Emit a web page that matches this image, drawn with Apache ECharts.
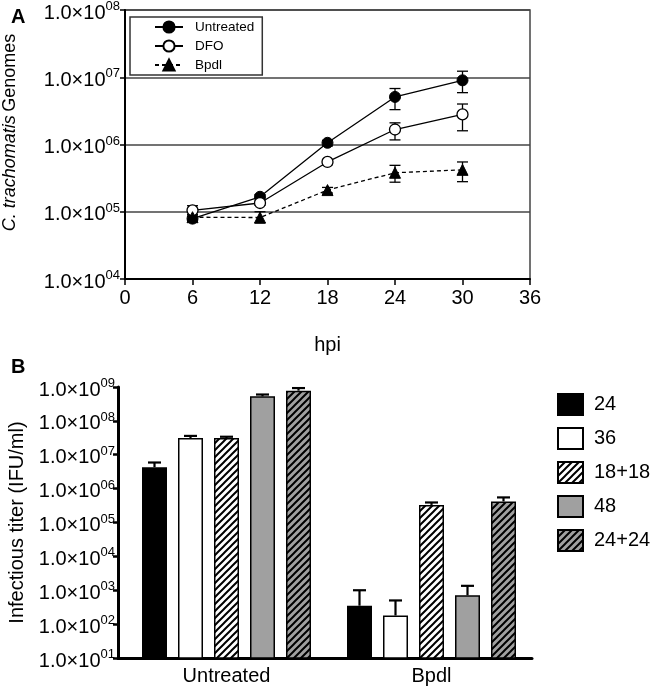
<!DOCTYPE html>
<html>
<head>
<meta charset="utf-8" />
<title>Chart</title>
<script src="https://cdn.jsdelivr.net/npm/echarts@6/dist/echarts.min.js"></script>
<style>
  html, body { margin: 0; padding: 0; background: #fff; }
  #main { width: 654px; height: 687px; }
</style>
</head>
<body>
<div id="main"></div>
<script>
// ---- panel A data (genomes vs hpi) ----
var hpi = [6, 12, 18, 24, 30];
var untreatedA = [7.9e4, 1.67e5, 1.06e6, 5.1e6, 9.0e6];
var untreatedHi = [8.5e4, 1.8e5, 1.15e6, 6.8e6, 1.23e7];
var untreatedLo = [7.3e4, 1.55e5, 0.95e6, 3.3e6, 5.9e6];
var dfoA = [1.05e5, 1.35e5, 5.5e5, 1.67e6, 2.8e6];
var dfoHi = [1.23e5, 1.45e5, 6.0e5, 2.1e6, 4.0e6];
var dfoLo = [0.9e5, 1.25e5, 5.0e5, 1.17e6, 1.6e6];
var bpdlA = [8.3e4, 8.2e4, 2.1e5, 3.8e5, 4.2e5];
var bpdlHi = [9.0e4, 1.0e5, 2.3e5, 4.9e5, 5.5e5];
var bpdlLo = [7.6e4, 6.8e4, 1.9e5, 2.75e5, 2.8e5];

// ---- panel B data (infectious titer) ----
var groupsB = ['Untreated', 'Bpdl'];
var seriesNamesB = ['24', '36', '18+18', '48', '24+24'];
var titer24 = [4.3e6, 3.5e2];
var titer36 = [3.1e7, 1.8e2];
var titer1818 = [3.1e7, 3.3e5];
var titer48 = [5.3e8, 7.1e2];
var titer2424 = [7.8e8, 4.2e5];
var titer24Hi = [5.9e6, 1.0e3];
var titer36Hi = [3.6e7, 5.0e2];
var titer1818Hi = [3.4e7, 3.9e5];
var titer48Hi = [6.0e8, 1.35e3];
var titer2424Hi = [9.3e8, 5.5e5];

var FONT = '"Liberation Sans", Arial, sans-serif';
var BAR_W = 25, BAR_GAP = 0.44;

// diagonal hatch pattern
function hatch(bg) {
  var s = 7, c = document.createElement('canvas');
  c.width = s; c.height = s;
  var g = c.getContext('2d');
  g.fillStyle = bg; g.fillRect(0, 0, s, s);
  g.strokeStyle = '#000'; g.lineWidth = 2;
  g.beginPath();
  g.moveTo(0, s); g.lineTo(s, 0);
  g.moveTo(-1, 1); g.lineTo(1, -1);
  g.moveTo(s - 1, s + 1); g.lineTo(s + 1, s - 1);
  g.stroke();
  return { image: c, repeat: 'repeat' };
}

function expLabel(v) {
  var e = Math.round(Math.log10(v));
  var s = (e < 10 ? '0' : '') + e;
  return '{a|1.0×10}{b|' + s + '}';
}
var labelRich = {
  a: { fontSize: 20, fontFamily: FONT, color: '#000', lineHeight: 24, padding: [6, 0, 0, 0] },
  b: { fontSize: 13, fontFamily: FONT, color: '#000', verticalAlign: 'top', lineHeight: 13, padding: [2, 0, 0, 0] }
};

// error bars for panel A
var errDataA = [];
[[untreatedLo, untreatedHi], [dfoLo, dfoHi], [bpdlLo, bpdlHi]].forEach(function (p) {
  hpi.forEach(function (x, i) { errDataA.push([x, p[0][i], p[1][i]]); });
});
function renderErrA(params, api) {
  var x = api.value(0);
  var lo = api.coord([x, api.value(1)]);
  var hi = api.coord([x, api.value(2)]);
  var w = 5.5;
  var st = { stroke: '#000', lineWidth: 1.3 };
  return {
    type: 'group', children: [
      { type: 'line', shape: { x1: lo[0], y1: lo[1], x2: hi[0], y2: hi[1] }, style: st },
      { type: 'line', shape: { x1: hi[0] - w, y1: hi[1], x2: hi[0] + w, y2: hi[1] }, style: st },
      { type: 'line', shape: { x1: lo[0] - w, y1: lo[1], x2: lo[0] + w, y2: lo[1] }, style: st }
    ]
  };
}

// error bars for panel B (upper only)
var valsB = [titer24, titer36, titer1818, titer48, titer2424];
var hisB = [titer24Hi, titer36Hi, titer1818Hi, titer48Hi, titer2424Hi];
var errDataB = [];
valsB.forEach(function (vals, k) {
  vals.forEach(function (v, c) { errDataB.push([c, k, v, hisB[k][c]]); });
});
function renderErrB(params, api) {
  var c = api.value(0), k = api.value(1);
  var base = api.coord([c, api.value(2)]);
  var top = api.coord([c, api.value(3)]);
  var dx = (k - (seriesNamesB.length - 1) / 2) * BAR_W * (1 + BAR_GAP);
  var x = base[0] + dx, w = 6.5;
  var st = { stroke: '#000', lineWidth: 2.2 };
  return {
    type: 'group', children: [
      { type: 'line', shape: { x1: x, y1: base[1], x2: x, y2: top[1] }, style: st },
      { type: 'line', shape: { x1: x - w, y1: top[1], x2: x + w, y2: top[1] }, style: st }
    ]
  };
}

var fillsB = ['#000', '#fff', hatch('#fff'), '#a0a0a0', hatch('#a0a0a0')];

var barSeries = seriesNamesB.map(function (n, k) {
  return {
    name: n, type: 'bar', xAxisIndex: 2, yAxisIndex: 2,
    data: valsB[k], barWidth: BAR_W, barGap: (BAR_GAP * 100) + '%',
    itemStyle: { color: fillsB[k], borderColor: '#000', borderWidth: 1.5 },
    z: 2
  };
});

var chart = echarts.init(document.getElementById('main'));
chart.setOption({
  animation: false,
  textStyle: { fontFamily: FONT, color: '#000' },
  title: [
    { text: 'A', left: 6, top: 2, textStyle: { fontSize: 20, fontWeight: 'bold', fontFamily: FONT, color: '#000' } },
    { text: 'B', left: 6, top: 352, textStyle: { fontSize: 20, fontWeight: 'bold', fontFamily: FONT, color: '#000' } }
  ],
  legend: [
    {
      data: ['Untreated', 'DFO', 'Bpdl'],
      orient: 'vertical', left: 130, top: 17,
      itemWidth: 28, itemHeight: 14, itemGap: 5,
      padding: [3, 8, 3, 24],
      borderColor: '#333', borderWidth: 1.5,
      textStyle: { fontSize: 13.5, fontFamily: FONT, color: '#000', padding: [0, 0, 0, 7] }
    },
    {
      data: seriesNamesB,
      orient: 'vertical', left: 557, top: 393,
      icon: 'rect', itemWidth: 25, itemHeight: 21, itemGap: 11,
      padding: 0,
      textStyle: { fontSize: 20, fontFamily: FONT, color: '#000', padding: [0, 0, 0, 6] }
    }
  ],
  grid: [
    // panel A
    { left: 125, top: 10, width: 405, height: 269, show: true, borderColor: '#444', borderWidth: 1.5,
      outerBoundsMode: 'none', containLabel: false },
    // panel B frame (axis lines + y labels)
    { left: 118, top: 387, width: 414, height: 271, outerBoundsMode: 'none', containLabel: false },
    // panel B bars (categories sit slightly right of the y axis)
    { left: 124, top: 387, width: 410, height: 271, outerBoundsMode: 'none', containLabel: false }
  ],
  xAxis: [
    {
      type: 'value', gridIndex: 0, min: 0, max: 36, interval: 6,
      name: 'hpi', nameLocation: 'middle', nameGap: 56,
      nameTextStyle: { fontSize: 20, fontFamily: FONT, color: '#000' },
      axisLine: { lineStyle: { color: '#000', width: 2 } },
      axisTick: { length: 6, lineStyle: { color: '#000', width: 1.5 } },
      axisLabel: { fontSize: 20, fontFamily: FONT, color: '#000', margin: 9 },
      splitLine: { show: false }
    },
    {
      type: 'value', gridIndex: 1, min: 0, max: 1,
      axisLine: { show: true, lineStyle: { color: '#000', width: 3 } },
      axisTick: { show: false }, axisLabel: { show: false }, splitLine: { show: false }
    },
    {
      type: 'category', gridIndex: 2, data: groupsB,
      axisLine: { show: false },
      axisTick: { show: false },
      axisLabel: { fontSize: 20, fontFamily: FONT, color: '#000', margin: 8 }
    }
  ],
  yAxis: [
    {
      type: 'log', logBase: 10, gridIndex: 0, min: 1e4, max: 1e8,
      name: '{i|C. trachomatis} {n|Genomes}', nameLocation: 'middle', nameGap: 106,
      nameTextStyle: {
        padding: [0, 0, 0, 24],
        rich: {
          i: { fontSize: 18, fontStyle: 'italic', fontFamily: FONT, color: '#000' },
          n: { fontSize: 18, fontFamily: FONT, color: '#000' }
        }
      },
      axisLine: { show: true, lineStyle: { color: '#000', width: 2 } },
      axisTick: { show: true, length: 5, lineStyle: { color: '#000', width: 1.5 } },
      minorTick: { show: false },
      axisLabel: { formatter: expLabel, rich: labelRich, margin: 5 },
      splitLine: { show: true, lineStyle: { color: '#444', width: 1.5 } }
    },
    {
      type: 'log', logBase: 10, gridIndex: 1, min: 10, max: 1e9,
      name: 'Infectious titer (IFU/ml)', nameLocation: 'middle', nameGap: 86,
      nameTextStyle: { fontSize: 20, fontFamily: FONT, color: '#000' },
      axisLine: { show: true, lineStyle: { color: '#000', width: 3 } },
      axisTick: { show: true, length: 5, lineStyle: { color: '#000', width: 2.5 } },
      axisLabel: { formatter: expLabel, rich: labelRich, margin: 3 },
      splitLine: { show: false }
    },
    {
      type: 'log', logBase: 10, gridIndex: 2, min: 10, max: 1e9, show: false
    }
  ],
  series: [
    {
      name: 'errA', type: 'custom', xAxisIndex: 0, yAxisIndex: 0,
      renderItem: renderErrA, data: errDataA, encode: { x: 0, y: [1, 2] }, z: 1, silent: true
    },
    {
      name: 'Untreated', type: 'line', xAxisIndex: 0, yAxisIndex: 0,
      data: hpi.map(function (x, i) { return [x, untreatedA[i]]; }),
      symbol: 'circle', symbolSize: 11,
      itemStyle: { color: '#000', borderColor: '#000', borderWidth: 1 },
      lineStyle: { color: '#000', width: 1.3 }, z: 3
    },
    {
      name: 'DFO', type: 'line', xAxisIndex: 0, yAxisIndex: 0,
      data: hpi.map(function (x, i) { return [x, dfoA[i]]; }),
      symbol: 'circle', symbolSize: 11,
      itemStyle: { color: '#fff', borderColor: '#000', borderWidth: 1.3 },
      lineStyle: { color: '#000', width: 1.3 }, z: 3
    },
    {
      name: 'Bpdl', type: 'line', xAxisIndex: 0, yAxisIndex: 0,
      data: hpi.map(function (x, i) { return [x, bpdlA[i]]; }),
      symbol: 'triangle', symbolSize: 11,
      itemStyle: { color: '#000', borderColor: '#000', borderWidth: 1 },
      lineStyle: { color: '#000', width: 1.3, type: [4, 3] }, z: 3
    }
  ].concat(barSeries).concat([
    {
      name: 'errB', type: 'custom', xAxisIndex: 2, yAxisIndex: 2,
      renderItem: renderErrB, data: errDataB, encode: { x: 0, y: [2, 3] }, z: 3, silent: true
    }
  ])
});

window.onresize = function () { chart.resize(); };
</script>
</body>
</html>
